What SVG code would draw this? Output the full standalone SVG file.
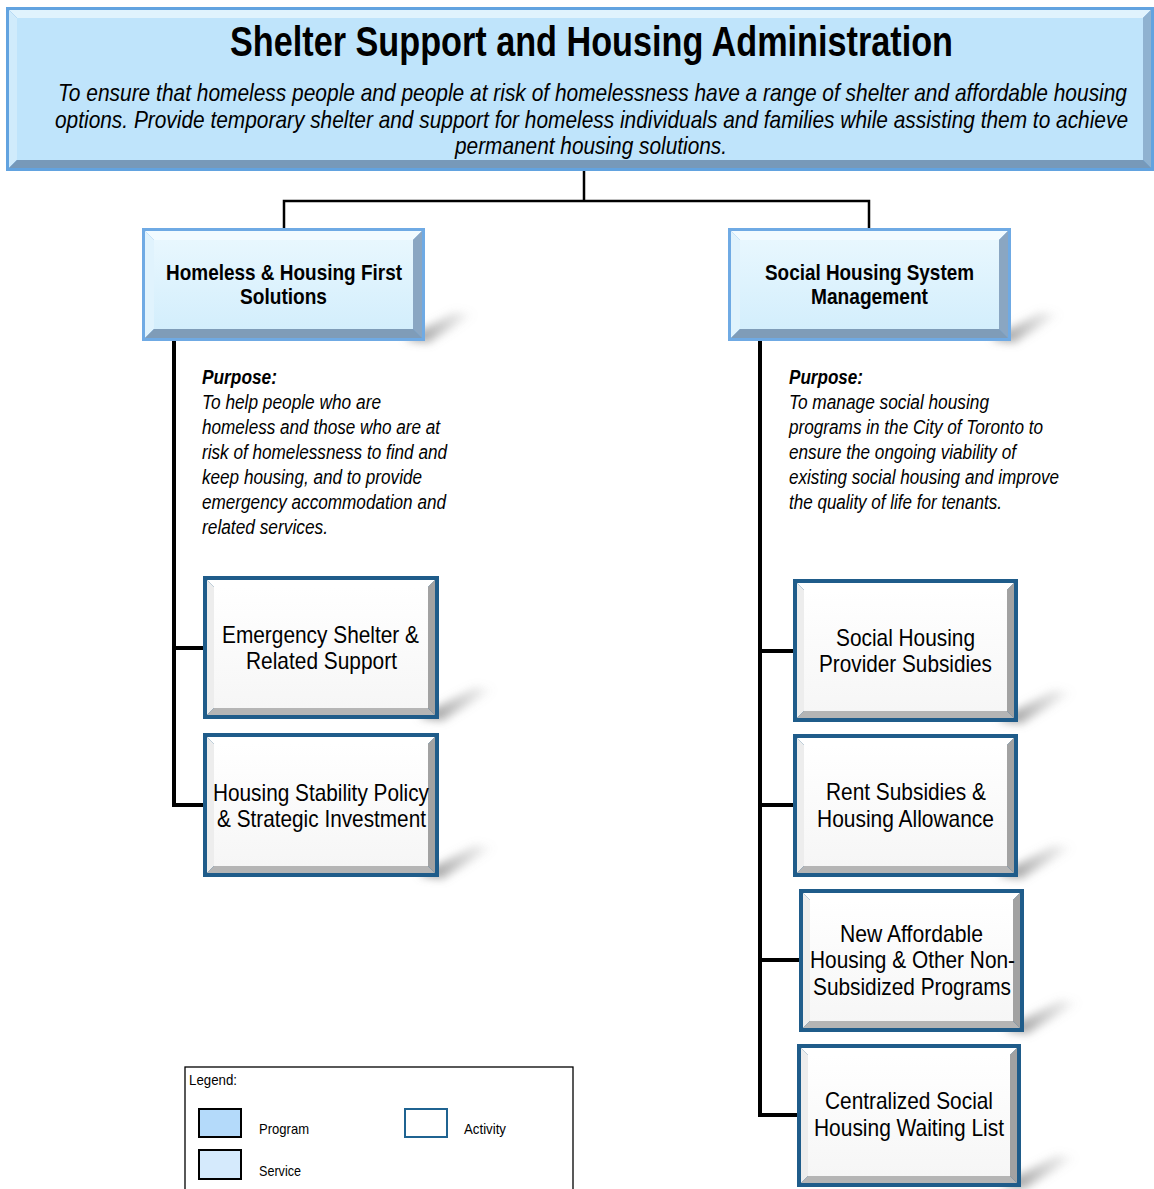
<svg xmlns="http://www.w3.org/2000/svg" width="1154" height="1189" viewBox="0 0 1154 1189">
<style>
text{font-family:"Liberation Sans",Arial,sans-serif;fill:#000}
.title{font-size:42px;font-weight:bold}
.sub{font-size:24px;font-style:italic}
.prog{font-size:22px;font-weight:bold}
.purp{font-size:20px;font-style:italic}
.purpb{font-size:20px;font-style:italic;font-weight:bold}
.act{font-size:24px}
.leg{font-size:15px}
.conn{fill:none;stroke:#000;stroke-linejoin:miter;stroke-linecap:square}
.shadow{fill:url(#shg);filter:url(#blur)}
.tb-o{fill:#62a3e0}.tb-t{fill:#e0f3fd}.tb-l{fill:#d0ebfb}.tb-r{fill:#8fb2d0}.tb-b{fill:#7799b9}.tb-i{fill:#bfe4fb}
.pb-o{fill:#6faae4}.pb-t{fill:#f2fbff}.pb-l{fill:#e0f3fd}.pb-r{fill:#8aa6c2}.pb-b{fill:#7f9cb8}.pb-i{fill:url(#pg)}
.ab-o{fill:#1f5c8a}.ab-t{fill:#ffffff}.ab-l{fill:#ededed}.ab-r{fill:#a2a2a2}.ab-b{fill:#b5b5b5}.ab-i{fill:url(#ag)}
</style>
<defs>
<linearGradient id="pg" x1="0" y1="0" x2="0" y2="1"><stop offset="0" stop-color="#e8f7fe"/><stop offset="1" stop-color="#d3eefc"/></linearGradient>
<linearGradient id="ag" x1="0" y1="0" x2="0" y2="1"><stop offset="0" stop-color="#ffffff"/><stop offset="1" stop-color="#f6f6f6"/></linearGradient>
<linearGradient id="shg" x1="0" y1="0" x2="1" y2="0"><stop offset="0" stop-color="#7a7a7a" stop-opacity="0.9"/><stop offset="1" stop-color="#9a9a9a" stop-opacity="0"/></linearGradient>
<filter id="blur" x="-50%" y="-50%" width="200%" height="200%"><feGaussianBlur stdDeviation="4"/></filter>
</defs>

<g id="shadows">
<polygon class="shadow" points="405,339 455,312 475,314 428,343"/>
<polygon class="shadow" points="991,339 1041,312 1061,314 1014,343"/>
<polygon class="shadow" points="419,717 475,687 495,689 442,721"/>
<polygon class="shadow" points="419,875 475,845 495,847 442,879"/>
<polygon class="shadow" points="998,720 1054,690 1074,692 1021,724"/>
<polygon class="shadow" points="998,875 1054,845 1074,847 1021,879"/>
<polygon class="shadow" points="1004,1030 1060,1000 1080,1002 1027,1034"/>
<polygon class="shadow" points="1001,1185 1057,1155 1077,1157 1024,1189"/>
</g>

<g id="connectors">
<path class="conn" stroke-width="2.5" d="M584,171 V201 M284,201 H869 M284,201 V228 M869,201 V228"/>
<path class="conn" stroke-width="4" d="M174,341 V805 H204 M174,648 H204"/>
<path class="conn" stroke-width="4" d="M760,341 V1115 H798 M760,651 H794 M760,805 H794 M760,960 H800"/>
</g>

<g id="top">
<rect class="tb-o" x="6" y="7" width="1148" height="164"/>
<polygon class="tb-t" points="9,10 1151,10 1143,18 17,18"/>
<polygon class="tb-l" points="9,10 17,18 17,160 9,168"/>
<polygon class="tb-r" points="1151,10 1151,168 1143,160 1143,18"/>
<polygon class="tb-b" points="9,168 17,160 1143,160 1151,168"/>
<rect class="tb-i" x="17" y="18" width="1126" height="142"/>
<text class="title" x="230" y="56" textLength="723" lengthAdjust="spacingAndGlyphs">Shelter Support and Housing Administration</text>
<text class="sub" x="58" y="101" textLength="1069" lengthAdjust="spacingAndGlyphs">To ensure that homeless people and people at risk of homelessness have a range of shelter and affordable housing</text>
<text class="sub" x="55" y="128" textLength="1073" lengthAdjust="spacingAndGlyphs">options. Provide temporary shelter and support for homeless individuals and families while assisting them to achieve</text>
<text class="sub" x="455" y="154" textLength="272" lengthAdjust="spacingAndGlyphs">permanent housing solutions.</text>
</g>

<g id="prog-homeless">
<rect class="pb-o" x="142" y="228" width="283" height="113"/>
<polygon class="pb-t" points="145,231 422,231 413,240 154,240"/>
<polygon class="pb-l" points="145,231 154,240 154,329 145,338"/>
<polygon class="pb-r" points="422,231 422,338 413,329 413,240"/>
<polygon class="pb-b" points="145,338 154,329 413,329 422,338"/>
<rect class="pb-i" x="154" y="240" width="259" height="89"/>
<text class="prog" x="166" y="280" textLength="236" lengthAdjust="spacingAndGlyphs">Homeless &amp; Housing First</text>
<text class="prog" x="240" y="304" textLength="87" lengthAdjust="spacingAndGlyphs">Solutions</text>
</g>

<g id="prog-social">
<rect class="pb-o" x="728" y="228" width="283" height="113"/>
<polygon class="pb-t" points="731,231 1008,231 999,240 740,240"/>
<polygon class="pb-l" points="731,231 740,240 740,329 731,338"/>
<polygon class="pb-r" points="1008,231 1008,338 999,329 999,240"/>
<polygon class="pb-b" points="731,338 740,329 999,329 1008,338"/>
<rect class="pb-i" x="740" y="240" width="259" height="89"/>
<text class="prog" x="765" y="280" textLength="209" lengthAdjust="spacingAndGlyphs">Social Housing System</text>
<text class="prog" x="811" y="304" textLength="117" lengthAdjust="spacingAndGlyphs">Management</text>
</g>

<g id="purpose-left">
<text class="purpb" x="202" y="384" textLength="75" lengthAdjust="spacingAndGlyphs">Purpose:</text>
<text class="purp" x="202" y="409" textLength="179" lengthAdjust="spacingAndGlyphs">To help people who are</text>
<text class="purp" x="202" y="434" textLength="238" lengthAdjust="spacingAndGlyphs">homeless and those who are at</text>
<text class="purp" x="202" y="459" textLength="245" lengthAdjust="spacingAndGlyphs">risk of homelessness to find and</text>
<text class="purp" x="202" y="484" textLength="220" lengthAdjust="spacingAndGlyphs">keep housing, and to provide</text>
<text class="purp" x="202" y="509" textLength="244" lengthAdjust="spacingAndGlyphs">emergency accommodation and</text>
<text class="purp" x="202" y="534" textLength="126" lengthAdjust="spacingAndGlyphs">related services.</text>
</g>

<g id="purpose-right">
<text class="purpb" x="789" y="384" textLength="74" lengthAdjust="spacingAndGlyphs">Purpose:</text>
<text class="purp" x="789" y="409" textLength="200" lengthAdjust="spacingAndGlyphs">To manage social housing</text>
<text class="purp" x="789" y="434" textLength="254" lengthAdjust="spacingAndGlyphs">programs in the City of Toronto to</text>
<text class="purp" x="789" y="459" textLength="227" lengthAdjust="spacingAndGlyphs">ensure the ongoing viability of</text>
<text class="purp" x="789" y="484" textLength="270" lengthAdjust="spacingAndGlyphs">existing social housing and improve</text>
<text class="purp" x="789" y="509" textLength="213" lengthAdjust="spacingAndGlyphs">the quality of life for tenants.</text>
</g>

<g id="act-emergency">
<rect class="ab-o" x="203" y="576" width="236" height="143"/>
<polygon class="ab-t" points="207,580 435,580 428,587 214,587"/>
<polygon class="ab-l" points="207,580 214,587 214,708 207,715"/>
<polygon class="ab-r" points="435,580 435,715 428,708 428,587"/>
<polygon class="ab-b" points="207,715 214,708 428,708 435,715"/>
<rect class="ab-i" x="214" y="587" width="214" height="121"/>
<text class="act" x="222" y="643" textLength="197" lengthAdjust="spacingAndGlyphs">Emergency Shelter &amp;</text>
<text class="act" x="246" y="669" textLength="151" lengthAdjust="spacingAndGlyphs">Related Support</text>
</g>

<g id="act-stability">
<rect class="ab-o" x="203" y="733" width="236" height="144"/>
<polygon class="ab-t" points="207,737 435,737 428,744 214,744"/>
<polygon class="ab-l" points="207,737 214,744 214,866 207,873"/>
<polygon class="ab-r" points="435,737 435,873 428,866 428,744"/>
<polygon class="ab-b" points="207,873 214,866 428,866 435,873"/>
<rect class="ab-i" x="214" y="744" width="214" height="122"/>
<text class="act" x="213" y="801" textLength="216" lengthAdjust="spacingAndGlyphs">Housing Stability Policy</text>
<text class="act" x="217" y="827" textLength="209" lengthAdjust="spacingAndGlyphs">&amp; Strategic Investment</text>
</g>

<g id="act-provider">
<rect class="ab-o" x="793" y="579" width="225" height="143"/>
<polygon class="ab-t" points="797,583 1014,583 1007,590 804,590"/>
<polygon class="ab-l" points="797,583 804,590 804,711 797,718"/>
<polygon class="ab-r" points="1014,583 1014,718 1007,711 1007,590"/>
<polygon class="ab-b" points="797,718 804,711 1007,711 1014,718"/>
<rect class="ab-i" x="804" y="590" width="203" height="121"/>
<text class="act" x="836" y="646" textLength="139" lengthAdjust="spacingAndGlyphs">Social Housing</text>
<text class="act" x="819" y="672" textLength="173" lengthAdjust="spacingAndGlyphs">Provider Subsidies</text>
</g>

<g id="act-rent">
<rect class="ab-o" x="793" y="734" width="225" height="143"/>
<polygon class="ab-t" points="797,738 1014,738 1007,745 804,745"/>
<polygon class="ab-l" points="797,738 804,745 804,866 797,873"/>
<polygon class="ab-r" points="1014,738 1014,873 1007,866 1007,745"/>
<polygon class="ab-b" points="797,873 804,866 1007,866 1014,873"/>
<rect class="ab-i" x="804" y="745" width="203" height="121"/>
<text class="act" x="826" y="800" textLength="160" lengthAdjust="spacingAndGlyphs">Rent Subsidies &amp;</text>
<text class="act" x="817" y="827" textLength="177" lengthAdjust="spacingAndGlyphs">Housing Allowance</text>
</g>

<g id="act-affordable">
<rect class="ab-o" x="799" y="889" width="225" height="143"/>
<polygon class="ab-t" points="803,893 1020,893 1013,900 810,900"/>
<polygon class="ab-l" points="803,893 810,900 810,1021 803,1028"/>
<polygon class="ab-r" points="1020,893 1020,1028 1013,1021 1013,900"/>
<polygon class="ab-b" points="803,1028 810,1021 1013,1021 1020,1028"/>
<rect class="ab-i" x="810" y="900" width="203" height="121"/>
<text class="act" x="840" y="942" textLength="143" lengthAdjust="spacingAndGlyphs">New Affordable</text>
<text class="act" x="810" y="968" textLength="205" lengthAdjust="spacingAndGlyphs">Housing &amp; Other Non-</text>
<text class="act" x="813" y="995" textLength="198" lengthAdjust="spacingAndGlyphs">Subsidized Programs</text>
</g>

<g id="act-waiting">
<rect class="ab-o" x="797" y="1044" width="224" height="143"/>
<polygon class="ab-t" points="801,1048 1017,1048 1010,1055 808,1055"/>
<polygon class="ab-l" points="801,1048 808,1055 808,1176 801,1183"/>
<polygon class="ab-r" points="1017,1048 1017,1183 1010,1176 1010,1055"/>
<polygon class="ab-b" points="801,1183 808,1176 1010,1176 1017,1183"/>
<rect class="ab-i" x="808" y="1055" width="202" height="121"/>
<text class="act" x="825" y="1109" textLength="168" lengthAdjust="spacingAndGlyphs">Centralized Social</text>
<text class="act" x="814" y="1136" textLength="190" lengthAdjust="spacingAndGlyphs">Housing Waiting List</text>
</g>

<g id="legend">
<rect x="185" y="1067" width="388" height="130" fill="#fff" stroke="#000" stroke-width="1.3"/>
<text class="leg" x="189" y="1085" textLength="48" lengthAdjust="spacingAndGlyphs">Legend:</text>
<rect x="199" y="1109" width="42" height="28" fill="#b4dafa" stroke="#000" stroke-width="2"/>
<text class="leg" x="259" y="1134" textLength="50" lengthAdjust="spacingAndGlyphs">Program</text>
<rect x="405" y="1109" width="42" height="28" fill="#fff" stroke="#1f6391" stroke-width="2"/>
<text class="leg" x="464" y="1134" textLength="42" lengthAdjust="spacingAndGlyphs">Activity</text>
<rect x="199" y="1150" width="42" height="29" fill="#d5eafc" stroke="#000" stroke-width="2"/>
<text class="leg" x="259" y="1176" textLength="42" lengthAdjust="spacingAndGlyphs">Service</text>
</g>
</svg>
